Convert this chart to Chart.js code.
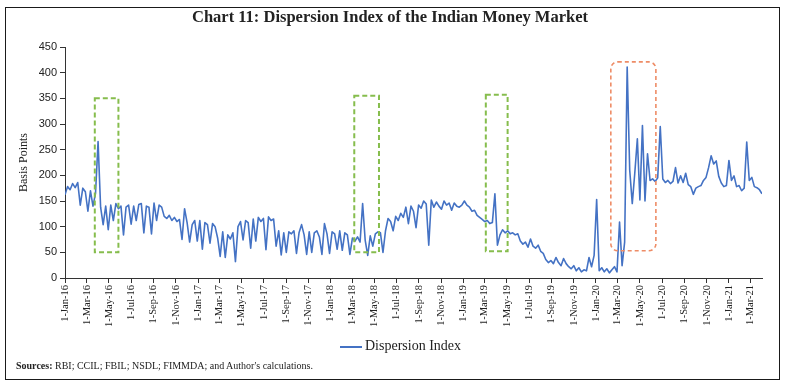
<!DOCTYPE html>
<html>
<head>
<meta charset="utf-8">
<title>Chart 11: Dispersion Index of the Indian Money Market</title>
<script src="https://cdn.jsdelivr.net/npm/chart.js@4.4.1/dist/chart.umd.min.js"></script>
<style>
  html, body { margin: 0; padding: 0; background: #fff; }
  #wrap { position: relative; width: 788px; height: 386px; }
  #myChart { position: absolute; left: 0; top: 0; }
  #frame { position: absolute; left: 5px; top: 7px; width: 775px; height: 373px; border: 1px solid #1a1a1a; box-sizing: border-box; pointer-events: none; }
  #title { position: absolute; left: 0; top: 7px; width: 780px; text-align: center; font: bold 16.5px 'Liberation Serif', serif; line-height: 20px; color: #222; }
  #legend { position: absolute; left: 340px; top: 338px; font: 14px 'Liberation Serif', serif; line-height: 16px; color: #222; white-space: nowrap; }
  #legend .swatch { display: inline-block; width: 22px; height: 2px; background: #4472c4; vertical-align: middle; margin-right: 3px; }
  #sources { position: absolute; left: 16px; top: 359px; font: 10px 'Liberation Serif', serif; line-height: 14px; color: #222; white-space: nowrap; }
</style>
</head>
<body>
<div id="wrap">
  <canvas id="myChart" width="788" height="386"></canvas>
  <div id="title">Chart 11: Dispersion Index of the Indian Money Market</div>
  <div id="legend"><span class="swatch"></span>Dispersion Index</div>
  <div id="sources"><b>Sources:</b> RBI; CCIL; FBIL; NSDL; FIMMDA; and Author's calculations.</div>
  <div id="frame"></div>
</div>
<script>
// Dispersion index in basis points.
// First reading is 1-Jan-16, then every 7 days.
const di2016 = [162, 178, 172, 184, 176, 186, 142, 175, 168, 130, 170, 140, 165, 266, 138, 104, 140, 94, 142, 112,
  145, 135, 140, 84, 138, 142, 105, 140, 112, 143, 145, 88, 140, 138, 86, 146, 112, 142, 138, 120,
  116, 122, 112, 118, 110, 114, 75, 135, 108, 70, 104, 112, 72];
const di2017 = [112, 56, 108, 104, 68, 106, 100, 78, 42, 90, 40, 84, 76, 88, 32, 100, 110, 74, 112, 108,
  58, 115, 72, 118, 110, 116, 55, 119, 112, 115, 62, 92, 45, 88, 50, 90, 86, 92, 48, 88,
  104, 84, 46, 90, 50, 88, 92, 80, 46, 106, 86, 48];
const di2018 = [90, 86, 56, 92, 54, 88, 84, 46, 78, 72, 80, 70, 145, 74, 44, 82, 62, 86, 90, 88,
  50, 92, 116, 110, 92, 120, 112, 126, 118, 138, 106, 140, 130, 98, 142, 136, 150, 144, 64, 152,
  138, 148, 140, 134, 150, 142, 146, 132, 146, 140, 138, 142];
const di2019 = [150, 142, 138, 130, 132, 122, 118, 114, 110, 112, 106, 108, 164, 64, 84, 94, 88, 92, 86, 88,
  84, 86, 72, 66, 70, 60, 76, 62, 58, 64, 52, 48, 36, 30, 34, 28, 40, 30, 24, 38,
  28, 22, 18, 24, 14, 20, 12, 16, 14, 40, 22, 44];
const di2020 = [153, 14, 20, 12, 18, 10, 16, 22, 12, 109, 24, 70, 411, 210, 145, 205, 271, 152, 297, 150,
  242, 190, 193, 188, 195, 295, 193, 186, 190, 184, 188, 215, 185, 199, 186, 204, 182, 178, 163, 175,
  178, 180, 190, 196, 215, 238, 222, 228, 198, 185, 178, 180];
const di2021 = [229, 190, 199, 178, 180, 170, 175, 265, 190, 196, 178, 176, 172, 164];

const tickLabels = [
  '1-Jan-16', '1-Mar-16', '1-May-16', '1-Jul-16', '1-Sep-16', '1-Nov-16',
  '1-Jan-17', '1-Mar-17', '1-May-17', '1-Jul-17', '1-Sep-17', '1-Nov-17',
  '1-Jan-18', '1-Mar-18', '1-May-18', '1-Jul-18', '1-Sep-18', '1-Nov-18',
  '1-Jan-19', '1-Mar-19', '1-May-19', '1-Jul-19', '1-Sep-19', '1-Nov-19',
  '1-Jan-20', '1-Mar-20', '1-May-20', '1-Jul-20', '1-Sep-20', '1-Nov-20',
  '1-Jan-21', '1-Mar-21'
];

// highlighted episodes (dashed boxes)
const boxFrom = ['23-Mar-16', '7-Mar-18', '4-Mar-19', '11-Feb-20'];
const boxTo = ['27-May-16', '14-May-18', '3-May-19', '14-Jun-20'];
const boxLow = [50, 50, 52, 53];
const boxHigh = [350, 355, 357, 421];

const monthIdx = { Jan: 0, Feb: 1, Mar: 2, Apr: 3, May: 4, Jun: 5, Jul: 6, Aug: 7, Sep: 8, Oct: 9, Nov: 10, Dec: 11 };
function dayOf(label) {
  const [d, m, y] = label.split('-');
  return (Date.UTC(2000 + Number(y), monthIdx[m], Number(d)) - Date.UTC(2016, 0, 1)) / 86400000;
}

const weekly = [].concat(di2016, di2017, di2018, di2019, di2020, di2021);
const points = weekly.map((v, i) => ({ x: i * 7, y: v }));
const tickDays = tickLabels.map(dayOf);

// dashed boxes drawn on top of the line
const boxPlugin = {
  id: 'episodeBoxes',
  afterDatasetsDraw(chart) {
    const { ctx, scales: { x, y } } = chart;
    ctx.save();
    boxFrom.forEach((from, i) => {
      const x1 = x.getPixelForValue(dayOf(from));
      const x2 = x.getPixelForValue(dayOf(boxTo[i]));
      const y1 = y.getPixelForValue(boxHigh[i]);
      const y2 = y.getPixelForValue(boxLow[i]);
      const last = i === boxFrom.length - 1;
      ctx.strokeStyle = last ? '#ee8c66' : '#86bd4d';
      ctx.lineWidth = last ? 1.6 : 2;
      ctx.setLineDash(last ? [4, 3] : [5, 3]);
      ctx.beginPath();
      if (last) {
        ctx.roundRect(x1, y1, x2 - x1, y2 - y1, 7);
      } else {
        ctx.rect(x1, y1, x2 - x1, y2 - y1);
      }
      ctx.stroke();
    });
    ctx.restore();
  }
};

const config = {
  type: 'line',
  data: {
    datasets: [{
      label: 'Dispersion Index',
      data: points,
      borderColor: '#4472c4',
      backgroundColor: '#4472c4',
      borderWidth: 1.6,
      borderJoinStyle: 'round',
      pointRadius: 0,
      tension: 0,
      fill: false
    }]
  },
  options: {
    responsive: false,
    animation: false,
    devicePixelRatio: 1,
    layout: { padding: { left: 5, right: 26, top: 47, bottom: 58 } },
    plugins: {
      legend: { display: false },
      title: { display: false },
      tooltip: { enabled: false }
    },
    scales: {
      x: {
        type: 'linear',
        min: 0,
        max: 1918,
        afterBuildTicks: (axis) => { axis.ticks = tickDays.map(d => ({ value: d })); },
        afterFit: (scale) => { scale.height = 50; },
        ticks: {
          autoSkip: false,
          minRotation: 90,
          maxRotation: 90,
          padding: 2,
          color: '#222',
          font: { family: 'Liberation Serif', size: 10.5 },
          callback: (value, index) => tickLabels[index]
        },
        grid: { drawOnChartArea: false, drawTicks: true, tickLength: 5, color: '#333' },
        border: { display: true, color: '#333', width: 1 }
      },
      y: {
        min: 0,
        max: 450,
        afterFit: (scale) => { scale.width = 60; },
        ticks: {
          stepSize: 50,
          padding: 3,
          color: '#222',
          font: { family: 'Liberation Sans', size: 11 }
        },
        grid: { drawOnChartArea: false, drawTicks: true, tickLength: 5, color: '#333' },
        border: { display: true, color: '#333', width: 1 },
        title: {
          display: true,
          text: 'Basis Points',
          color: '#222',
          font: { family: 'Liberation Serif', size: 12 },
          padding: { top: 12, bottom: 0 }
        }
      }
    }
  },
  plugins: [boxPlugin]
};

const myChart = new Chart(document.getElementById('myChart'), config);
</script>
</body>
</html>
